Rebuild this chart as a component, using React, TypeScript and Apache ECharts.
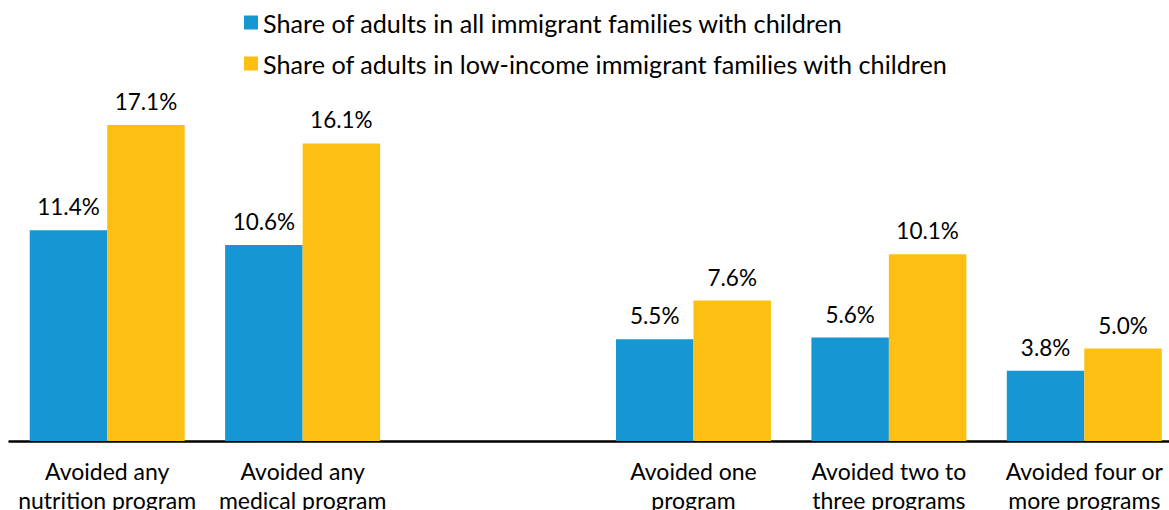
import React, { useEffect, useRef } from "react";
import * as echarts from "echarts";

const categories = [
  "Avoided any\nnutrition program",
  "Avoided any\nmedical program",
  "",
  "Avoided one\nprogram",
  "Avoided two to\nthree programs",
  "Avoided four or\nmore programs",
];
const allFamilies = [11.4, 10.6, null, 5.5, 5.6, 3.8];
const lowIncome = [17.1, 16.1, null, 7.6, 10.1, 5.0];
const seriesNames = [
  "Share of adults in all immigrant families with children",
  "Share of adults in low-income immigrant families with children",
];
const colors = ["#1696d2", "#fdbf11"];

export default function App() {
  const ref = useRef<HTMLDivElement>(null);
  useEffect(() => {
    const chart = echarts.init(ref.current!, undefined, { renderer: "svg" });
    const label = {
      show: true,
      position: "top" as const,
      distance: 12,
      color: "#000",
      fontSize: 22.5,
      fontFamily: "Lato",
      formatter: (p: any) => (p.value == null ? "" : Number(p.value).toFixed(1) + "%"),
    };
    chart.setOption({
      animation: false,
      textStyle: { fontFamily: "Lato" },
      legend: {
        orient: "vertical",
        left: 239,
        top: 5,
        itemWidth: 14,
        itemHeight: 14,
        itemGap: 16,
        icon: "rect",
        textStyle: { fontSize: 25.2, color: "#000", fontFamily: "Lato" },
        data: seriesNames,
      },
      grid: {
        left: 9.5,
        width: 1172.5,
        top: 71.4,
        bottom: 69,
        containLabel: false,
        outerBoundsMode: "none",
      },
      xAxis: {
        type: "category",
        data: categories,
        axisLine: { lineStyle: { color: "#000", width: 2.5 } },
        axisTick: { show: false },
        axisLabel: {
          color: "#000",
          fontSize: 23,
          fontFamily: "Lato",
          lineHeight: 28.5,
          margin: 16,
          interval: 0,
        },
      },
      yAxis: {
        type: "value",
        min: 0,
        max: 20,
        show: false,
        splitLine: { show: false },
      },
      series: [
        {
          name: seriesNames[0],
          type: "bar",
          data: allFamilies,
          itemStyle: { color: colors[0] },
          barGap: "0%",
          barCategoryGap: "20.7%",
          label,
        },
        {
          name: seriesNames[1],
          type: "bar",
          data: lowIncome,
          itemStyle: { color: colors[1] },
          barGap: "0%",
          barCategoryGap: "20.7%",
          label,
        },
      ],
    });
    return () => chart.dispose();
  }, []);
  return <div ref={ref} style={{ width: 1169, height: 510, position: "absolute", left: 0, top: 0 }} />;
}
